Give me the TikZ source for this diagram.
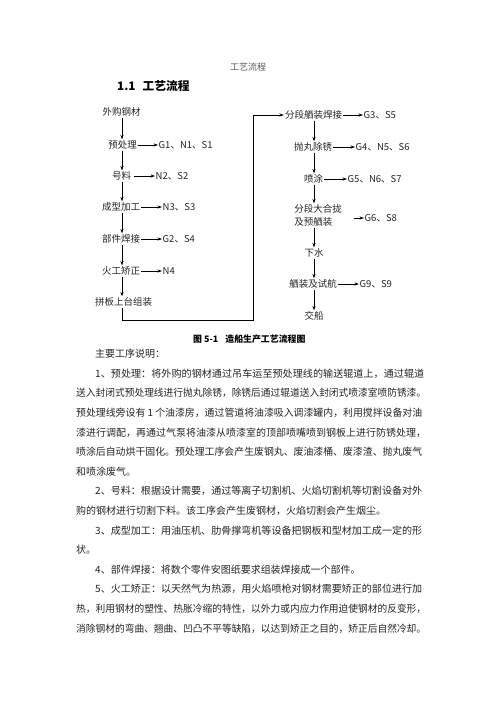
\documentclass[tikz,border=0pt]{standalone}
\usepackage{fontspec}
\usepackage{graphicx}
\setmainfont{Noto Sans CJK SC}
\usetikzlibrary{arrows.meta}
\newcommand{\fitline}[2]{\resizebox{#1}{\height}{#2}}
\tikzset{
  box/.style={inner sep=1pt, font=\fontsize{9.5}{13}\selectfont, text=black!85},
  lab/.style={inner sep=0.5pt, anchor=west, font=\fontsize{9.5}{11}\selectfont, text=black!85},
  flow/.style={-{Stealth[length=4.5pt,width=3.2pt]}, line width=0.7pt},
  plain/.style={line width=0.7pt},
  body/.style={inner sep=0pt, anchor=west, font=\fontsize{10}{12}\selectfont, text=black!85},
}
\begin{document}
\begin{tikzpicture}[x=1pt,y=-1pt]
\useasboundingbox[fill=white] (0,0) rectangle (496,702);

% page header and heading
\node[inner sep=0pt, font=\fontsize{9}{10}\selectfont, text=black!65] (hdr) at (248,67) {工艺流程};
\node[inner sep=0pt, anchor=west, font=\bfseries\fontsize{11.75}{13}\selectfont] (h11) at (117,86) {1.1\hspace{7pt}工艺流程};

% axes
\coordinate (axL) at (122,0);
\coordinate (axR) at (314,0);

% left column
\node[box] (wg)  at (121.5,112) {外购钢材};
\node[box] (ycl) at (122.5,145) {预处理};
\node[box] (hl)  at (121.5,176) {号料};
\node[box] (cx)  at (121,207) {成型加工};
\node[box] (bj)  at (121,239) {部件焊接};
\node[box] (hg)  at (121,271) {火工矫正};
\node[box] (pb)  at (123.5,302) {拼板上台组装};

\draw[flow] (wg.south -| axL) -- (ycl.north -| axL);
\draw[flow] (ycl.south -| axL) -- (hl.north -| axL);
\draw[flow] (hl.south -| axL) -- (cx.north -| axL);
\draw[flow] (cx.south -| axL) -- (bj.north -| axL);
\draw[flow] (bj.south -| axL) -- (hg.north -| axL);
\draw[flow] (hg.south -| axL) -- (pb.north -| axL);

\node[lab] (g1) at (158,145) {G1、N1、S1};
\node[lab] (n2) at (155,176) {N2、S2};
\node[lab] (n3) at (162,207) {N3、S3};
\node[lab] (g2) at (162,239) {G2、S4};
\node[lab] (n4) at (162,271) {N4};
\draw[flow] (ycl.east) -- (g1.west);
\draw[flow] ([xshift=2pt]hl.east) -- (n2.west);
\draw[flow] (cx.east) -- (n3.west);
\draw[flow] (bj.east) -- (g2.west);
\draw[flow] (hg.east) -- (n4.west);

% right column
\node[box] (fd) at (313.5,115) {分段舾装焊接};
\node[box] (pw) at (313,147) {抛丸除锈};
\node[box] (pt) at (313.5,179) {喷涂};
\node[box, align=left] (dh) at (318,215.5) {分段大合拢\\及预舾装};
\node[box] (xs) at (314,253) {下水};
\node[box] (sz) at (313,284) {舾装及试航};
\node[box] (jc) at (314,316) {交船};

\draw[flow] (fd.south -| axR) -- (pw.north -| axR);
\draw[flow] (pw.south -| axR) -- (pt.north -| axR);
\draw[flow] (pt.south -| axR) -- (dh.north -| axR);
\draw[flow] (dh.south -| axR) -- (xs.north -| axR);
\draw[flow] (xs.south -| axR) -- (sz.north -| axR);
\draw[flow] (sz.south -| axR) -- (jc.north -| axR);

\node[lab] (g3) at (363,115) {G3、S5};
\node[lab] (g4) at (355,147) {G4、N5、S6};
\node[lab] (g5) at (347,179) {G5、N6、S7};
\node[lab] (g6) at (364,218) {G6、S8};
\node[lab] (g9) at (359,284) {G9、S9};
\draw[flow] (fd.east) -- (g3.west);
\draw[flow] (pw.east) -- (g4.west);
\draw[flow] (pt.east) -- (g5.west);
\draw[flow] ([xshift=11pt]dh.east |- g6.west) -- (g6.west);
\draw[flow] (sz.east) -- (g9.west);

% return path
\coordinate (c1) at (122,320);
\coordinate (c2) at (253,320);
\draw[flow] (pb.south -| axL) -- (c1) -- (c2) -- (c2 |- fd.west) -- (fd.west);

% caption
\node[inner sep=0pt, anchor=west, font=\bfseries\fontsize{8.9}{10}\selectfont] (cap) at (193,339) {图 5-1\hspace{7pt}造船生产工艺流程图};

% body text
\node[body] (t0)  at (95,354)    {主要工序说明：};
\node[body] (t1)  at (95,373.6)  {\fitline{329pt}{1、预处理：将外购的钢材通过吊车运至预处理线的输送辊道上，通过辊道}};
\node[body] (t2)  at (76,393.2)  {\fitline{350pt}{送入封闭式预处理线进行抛丸除锈，除锈后通过辊道送入封闭式喷漆室喷防锈漆。}};
\node[body] (t3)  at (76,412.8)  {\fitline{346pt}{预处理线旁设有 1 个油漆房，通过管道将油漆吸入调漆罐内，利用搅拌设备对油}};
\node[body] (t4)  at (76,432.4)  {\fitline{350pt}{漆进行调配，再通过气泵将油漆从喷漆室的顶部喷嘴喷到钢板上进行防锈处理，}};
\node[body] (t5)  at (76,452)    {\fitline{346pt}{喷涂后自动烘干固化。预处理工序会产生废钢丸、废油漆桶、废漆渣、抛丸废气}};
\node[body] (t6)  at (76,471.6)  {和喷涂废气。};
\node[body] (t7)  at (95,491.2)  {\fitline{327pt}{2、号料：根据设计需要，通过等离子切割机、火焰切割机等切割设备对外}};
\node[body] (t8)  at (76,510.8)  {购的钢材进行切割下料。该工序会产生废钢材，火焰切割会产生烟尘。};
\node[body] (t9)  at (95,530.4)  {\fitline{327pt}{3、成型加工：用油压机、肋骨撑弯机等设备把钢板和型材加工成一定的形}};
\node[body] (t10) at (76,550)    {状。};
\node[body] (t11) at (95,569.6)  {4、部件焊接：将数个零件安图纸要求组装焊接成一个部件。};
\node[body] (t12) at (95,589.2)  {\fitline{327pt}{5、火工矫正：以天然气为热源，用火焰喷枪对钢材需要矫正的部位进行加}};
\node[body] (t13) at (76,608.8)  {\fitline{350pt}{热，利用钢材的塑性、热胀冷缩的特性，以外力或内应力作用迫使钢材的反变形，}};
\node[body] (t14) at (76,628.4)  {\fitline{350pt}{消除钢材的弯曲、翘曲、凹凸不平等缺陷，以达到矫正之目的，矫正后自然冷却。}};
\end{tikzpicture}
\end{document}
